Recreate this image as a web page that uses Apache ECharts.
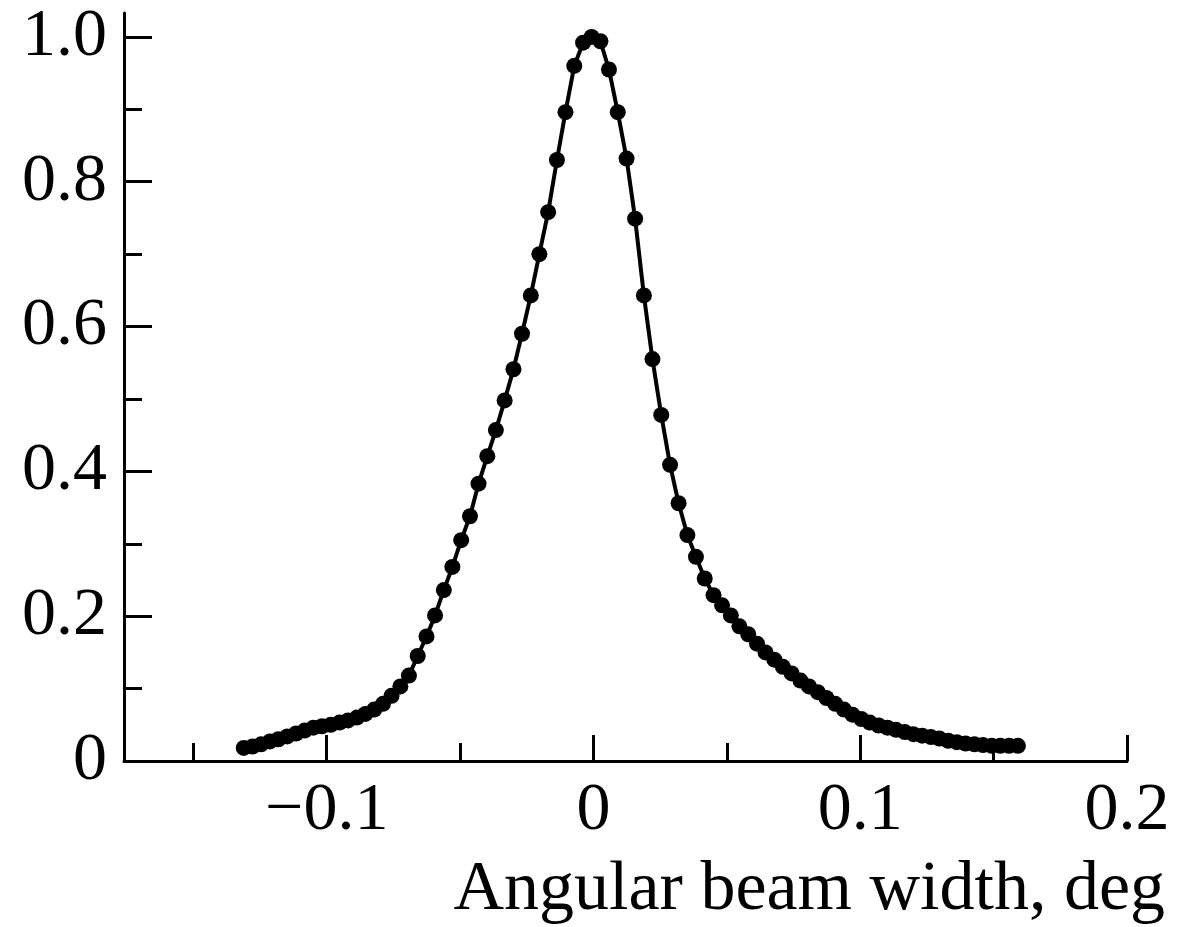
<!DOCTYPE html>
<html>
<head>
<meta charset="utf-8">
<script src="https://cdn.jsdelivr.net/npm/echarts@6/dist/echarts.min.js"></script>
<style>
html,body{margin:0;padding:0;background:#fff;}
#chart{width:1177px;height:927px;}
</style>
</head>
<body>
<div id="chart"></div>
<script>
// Angle values (deg)
var angles = [
-0.1311,-0.1278,-0.1246,-0.1213,-0.1181,-0.1148,-0.1115,-0.1083,-0.1050,-0.1018,
-0.0985,-0.0952,-0.0920,-0.0887,-0.0855,-0.0822,-0.0789,-0.0757,-0.0724,-0.0692,
-0.0659,-0.0626,-0.0594,-0.0561,-0.0529,-0.0496,-0.0463,-0.0431,-0.0398,-0.0366,
-0.0333,-0.0300,-0.0268,-0.0235,-0.0203,-0.0170,-0.0137,-0.0105,-0.0072,-0.0039,
-0.0007,0.0026,0.0058,0.0091,0.0124,0.0156,0.0189,0.0221,0.0254,0.0287,
0.0319,0.0352,0.0384,0.0417,0.0450,0.0482,0.0515,0.0547,0.0580,0.0613,
0.0645,0.0678,0.0710,0.0743,0.0776,0.0808,0.0841,0.0873,0.0906,0.0939,
0.0971,0.1004,0.1036,0.1069,0.1102,0.1134,0.1167,0.1199,0.1232,0.1265,
0.1297,0.1330,0.1362,0.1395,0.1428,0.1460,0.1493,0.1525,0.1558,0.1591
];
// Normalized intensity
var intensity = [
0.018,0.020,0.023,0.027,0.030,0.034,0.038,0.042,0.046,0.048,
0.050,0.053,0.056,0.060,0.065,0.071,0.079,0.090,0.103,0.118,
0.145,0.172,0.201,0.236,0.268,0.305,0.338,0.383,0.421,0.457,
0.498,0.541,0.590,0.643,0.700,0.758,0.830,0.896,0.960,0.992,
1.000,0.994,0.955,0.896,0.832,0.749,0.643,0.555,0.478,0.409,
0.356,0.312,0.282,0.252,0.229,0.215,0.201,0.186,0.175,0.162,
0.150,0.140,0.130,0.121,0.111,0.103,0.095,0.087,0.079,0.071,
0.064,0.058,0.053,0.049,0.046,0.043,0.040,0.037,0.035,0.033,
0.031,0.028,0.026,0.024,0.023,0.022,0.021,0.021,0.021,0.021
];
var xMajorTicks = [-0.1, 0, 0.1, 0.2];
var xMinorTicks = [-0.15, -0.05, 0.05, 0.15];
var yMajorTicks = [0, 0.2, 0.4, 0.6, 0.8, 1.0];
var yMinorTicks = [0.1, 0.3, 0.5, 0.7, 0.9];
var xTitle = 'Angular beam width, deg';

var FONT = '"Liberation Serif", "Times New Roman", serif';
var data = angles.map(function(a, i){ return [a, intensity[i]]; });

var chart = echarts.init(document.getElementById('chart'), null, {renderer:'canvas'});
var lineStyle = {color:'#000', width:3};
chart.setOption({
  animation:false,
  backgroundColor:'#fff',
  title:{text:xTitle, right:12, top:856, padding:0,
    textStyle:{fontFamily:FONT, fontSize:70, fontWeight:'normal', color:'#000'}},
  grid:{left:124, right:50, top:13, bottom:166, containLabel:false},
  xAxis:[
    {type:'value', min:-0.176, max:0.2, position:'bottom',
     axisLine:{show:true, lineStyle:lineStyle, onZero:false},
     axisTick:{show:true, inside:true, length:26, lineStyle:lineStyle, customValues:xMajorTicks},
     axisLabel:{show:true, margin:16, customValues:xMajorTicks, fontFamily:FONT, fontSize:68, color:'#000',
       formatter:function(v){ if (Math.abs(v)<1e-9) return '0'; return (v<0?'\u2212':'') + Math.abs(v).toFixed(1); }},
     splitLine:{show:false}},
    {type:'value', min:-0.176, max:0.2, position:'bottom',
     axisLine:{show:false, onZero:false},
     axisTick:{show:true, inside:true, length:18, lineStyle:lineStyle, customValues:xMinorTicks},
     axisLabel:{show:false}, splitLine:{show:false}}
  ],
  yAxis:[
    {type:'value', min:0, max:1.033, position:'left',
     axisLine:{show:true, lineStyle:lineStyle, onZero:false},
     axisTick:{show:true, inside:true, length:28, lineStyle:lineStyle, customValues:yMajorTicks},
     axisLabel:{show:true, margin:17, customValues:yMajorTicks, fontFamily:FONT, fontSize:68, color:'#000',
       formatter:function(v){ if (Math.abs(v)<1e-9) return '0'; return v.toFixed(1); }},
     splitLine:{show:false}},
    {type:'value', min:0, max:1.033, position:'left',
     axisLine:{show:false, onZero:false},
     axisTick:{show:true, inside:true, length:18, lineStyle:lineStyle, customValues:yMinorTicks},
     axisLabel:{show:false}, splitLine:{show:false}}
  ],
  series:[{
    type:'line', xAxisIndex:0, yAxisIndex:0, data:data,
    showSymbol:true, showAllSymbol:true, symbol:'circle', symbolSize:16,
    itemStyle:{color:'#000', borderWidth:0},
    lineStyle:{color:'#000', width:4},
    clip:false, z:5
  }]
});
</script>
</body>
</html>
